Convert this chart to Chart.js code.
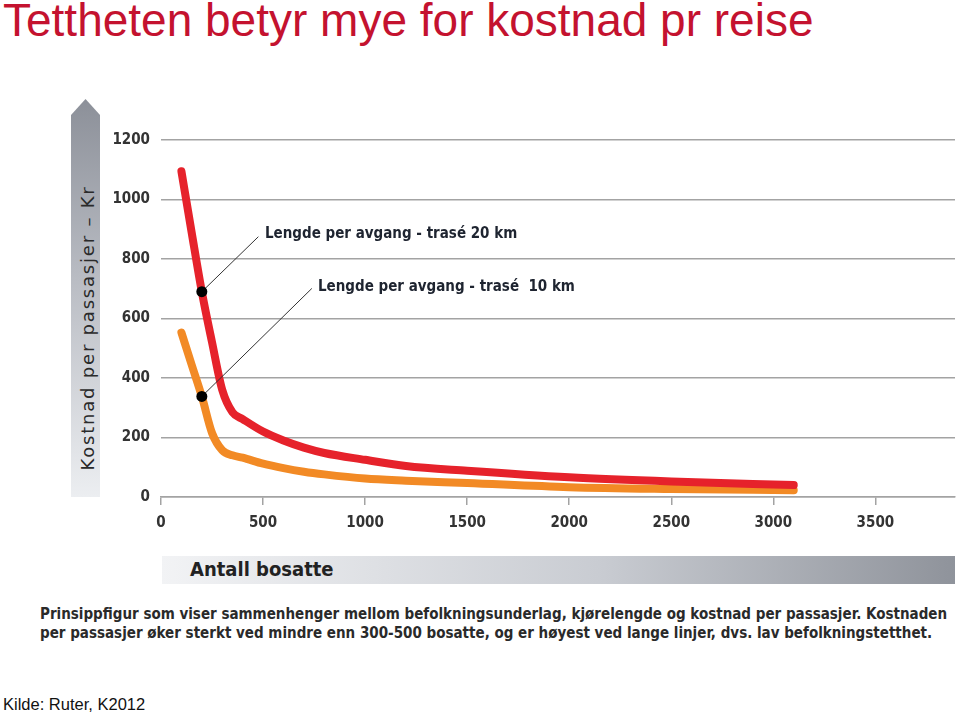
<!DOCTYPE html>
<html>
<head>
<meta charset="utf-8">
<title>Tettheten betyr mye for kostnad pr reise</title>
<script src="https://cdn.jsdelivr.net/npm/chart.js@4.4.1/dist/chart.umd.min.js"></script>
<style>
    html, body {
        margin: 0;
        padding: 0;
        background: #fff;
    }
    #page {
        position: relative;
        width: 960px;
        height: 716px;
        overflow: hidden;
    }
    .title {
        position: absolute;
        left: 3px;
        top: -7px;
        font-family: "Liberation Sans", Arial, sans-serif;
        font-size: 46px;
        color: #c4122f;
        white-space: nowrap;
    }
    .source {
        position: absolute;
        left: 3px;
        top: 695px;
        font-family: "Liberation Sans", Arial, sans-serif;
        font-size: 16.5px;
        color: #111;
    }
    .yband {
        position: absolute;
        left: 71px;
        top: 99px;
        width: 29px;
        height: 398px;
        background: linear-gradient(to bottom, #8c9099 0%, #b9bcc3 45%, #eceef1 100%);
        clip-path: polygon(50% 0, 100% 4%, 100% 100%, 0 100%, 0 4%);
    }
    .ytitle {
        position: absolute;
        left: 87px;
        top: 328px;
        transform: translate(-50%, -50%) rotate(-90deg);
        font-family: "DejaVu Sans", sans-serif;
        font-size: 18px;
        letter-spacing: 1.8px;
        color: #2a2a2a;
        white-space: nowrap;
    }
    .xband {
        position: absolute;
        left: 162px;
        top: 556px;
        width: 793px;
        height: 28px;
        background: linear-gradient(to right, #f2f3f5 0%, #c9ccd2 55%, #8f939b 100%);
    }
    .xtitle {
        position: absolute;
        left: 190px;
        top: 557px;
        font-family: "DejaVu Sans Condensed", "DejaVu Sans", sans-serif;
        font-weight: bold;
        font-size: 20px;
        color: #222;
        white-space: nowrap;
    }
    .label {
        position: absolute;
        font-family: "DejaVu Sans Condensed", "DejaVu Sans", sans-serif;
        font-weight: bold;
        font-size: 15px;
        color: #1e2430;
        white-space: nowrap;
    }
    .caption {
        position: absolute;
        left: 40px;
        top: 605px;
        font-family: "DejaVu Sans Condensed", "DejaVu Sans", sans-serif;
        font-weight: bold;
        font-size: 15px;
        line-height: 19px;
        color: #2a2a2a;
        white-space: nowrap;
    }
    #chart {
        position: absolute;
        left: 100px;
        top: 120px;
    }
</style>
</head>
<body>
<div id="page">
    <div class="title">Tettheten betyr mye for kostnad pr reise</div>
    <div class="yband"></div>
    <div class="ytitle">Kostnad per passasjer – Kr</div>
    <canvas id="chart" width="860" height="440"></canvas>
    <div class="label" style="left:265px; top:224px;">Lengde per avgang - trasé 20 km</div>
    <div class="label" style="left:318px; top:277px;">Lengde per avgang - trasé&nbsp; 10 km</div>
    <div class="xband"></div>
    <div class="xtitle">Antall bosatte</div>
    <div class="caption">Prinsippfigur som viser sammenhenger mellom befolkningsunderlag, kjørelengde og kostnad per passasjer. Kostnaden<br>per passasjer øker sterkt ved mindre enn 300-500 bosatte, og er høyest ved lange linjer, dvs. lav befolkningstetthet.</div>
    <div class="source">Kilde: Ruter, K2012</div>
</div>

<script>
// Antall bosatte (x) and kostnad per passasjer (kr)
const residents = [100, 150, 200, 250, 300, 350, 400, 500, 600, 700, 800, 1000, 1200, 1500, 2000, 2500, 3100];
const cost20km = [1095, 890, 690, 520, 360, 285, 262, 220, 190, 166, 148, 125, 104, 88, 66, 52, 40];
const cost10km = [553, 445, 338, 215, 157, 140, 132, 112, 97, 85, 76, 62, 55, 47, 33, 27, 23];

const xTicks = [0, 500, 1000, 1500, 2000, 2500, 3000, 3500];
const yTicks = [0, 200, 400, 600, 800, 1000, 1200];

// where the pointer markers sit (index into residents) and where the leader line ends (data coords)
const markerIndex = 2;
const leaderEnd20 = [477, 875];
const leaderEnd10 = [739, 701];

const gridGrey = '#a3a3a3';
const tickFont = { family: '"DejaVu Sans Condensed", "DejaVu Sans", sans-serif', size: 15, weight: 'bold' };

function toPoints(ys) {
    return residents.map((x, i) => ({ x: x, y: ys[i] }));
}

// leader lines + black dots
const leaderPlugin = {
    id: 'leaders',
    afterDatasetsDraw(chart) {
        const ctx = chart.ctx;
        const xs = chart.scales.x;
        const ys = chart.scales.y;
        const ends = [leaderEnd20, leaderEnd10];
        chart.data.datasets.forEach((ds, i) => {
            const pt = chart.getDatasetMeta(i).data[markerIndex];
            const end = ends[i];
            ctx.save();
            ctx.strokeStyle = '#333';
            ctx.lineWidth = 1;
            ctx.beginPath();
            ctx.moveTo(pt.x, pt.y);
            ctx.lineTo(xs.getPixelForValue(end[0]), ys.getPixelForValue(end[1]));
            ctx.stroke();
            ctx.fillStyle = '#000';
            ctx.beginPath();
            ctx.arc(pt.x, pt.y, 5.5, 0, Math.PI * 2);
            ctx.fill();
            ctx.restore();
        });
    }
};

new Chart(document.getElementById('chart'), {
    type: 'line',
    data: {
        datasets: [
            {
                label: 'Lengde per avgang - trasé 20 km',
                data: toPoints(cost20km),
                borderColor: '#e6222b',
                borderWidth: 8,
                borderCapStyle: 'round',
                borderJoinStyle: 'round',
                cubicInterpolationMode: 'monotone',
                pointRadius: 0,
                fill: false,
                order: 1
            },
            {
                label: 'Lengde per avgang - trasé 10 km',
                data: toPoints(cost10km),
                borderColor: '#f28a25',
                borderWidth: 8,
                borderCapStyle: 'round',
                borderJoinStyle: 'round',
                cubicInterpolationMode: 'monotone',
                pointRadius: 0,
                fill: false,
                order: 2
            }
        ]
    },
    options: {
        responsive: false,
        animation: false,
        layout: {
            padding: { top: 18, right: 5, left: 0, bottom: 0 }
        },
        plugins: {
            legend: { display: false },
            tooltip: { enabled: false },
            title: { display: false }
        },
        scales: {
            x: {
                type: 'linear',
                min: 0,
                max: 3890,
                afterBuildTicks: (scale) => {
                    scale.ticks = xTicks.map(v => ({ value: v }));
                },
                afterFit: (scale) => { scale.height = 63; },
                grid: {
                    drawOnChartArea: false,
                    drawTicks: true,
                    tickLength: 8,
                    color: gridGrey,
                    lineWidth: 1.5
                },
                border: { display: true, color: gridGrey, width: 1.5 },
                ticks: {
                    padding: 9,
                    maxRotation: 0,
                    color: '#333',
                    font: tickFont,
                    callback: (v) => String(v)
                }
            },
            y: {
                min: 0,
                max: 1200,
                afterBuildTicks: (scale) => {
                    scale.ticks = yTicks.map(v => ({ value: v }));
                },
                afterFit: (scale) => { scale.width = 61; },
                grid: {
                    drawTicks: false,
                    color: gridGrey,
                    lineWidth: 1.5
                },
                border: { display: false },
                ticks: {
                    padding: 11,
                    color: '#333',
                    font: tickFont,
                    callback: (v) => String(v)
                }
            }
        }
    },
    plugins: [leaderPlugin]
});
</script>
</body>
</html>
